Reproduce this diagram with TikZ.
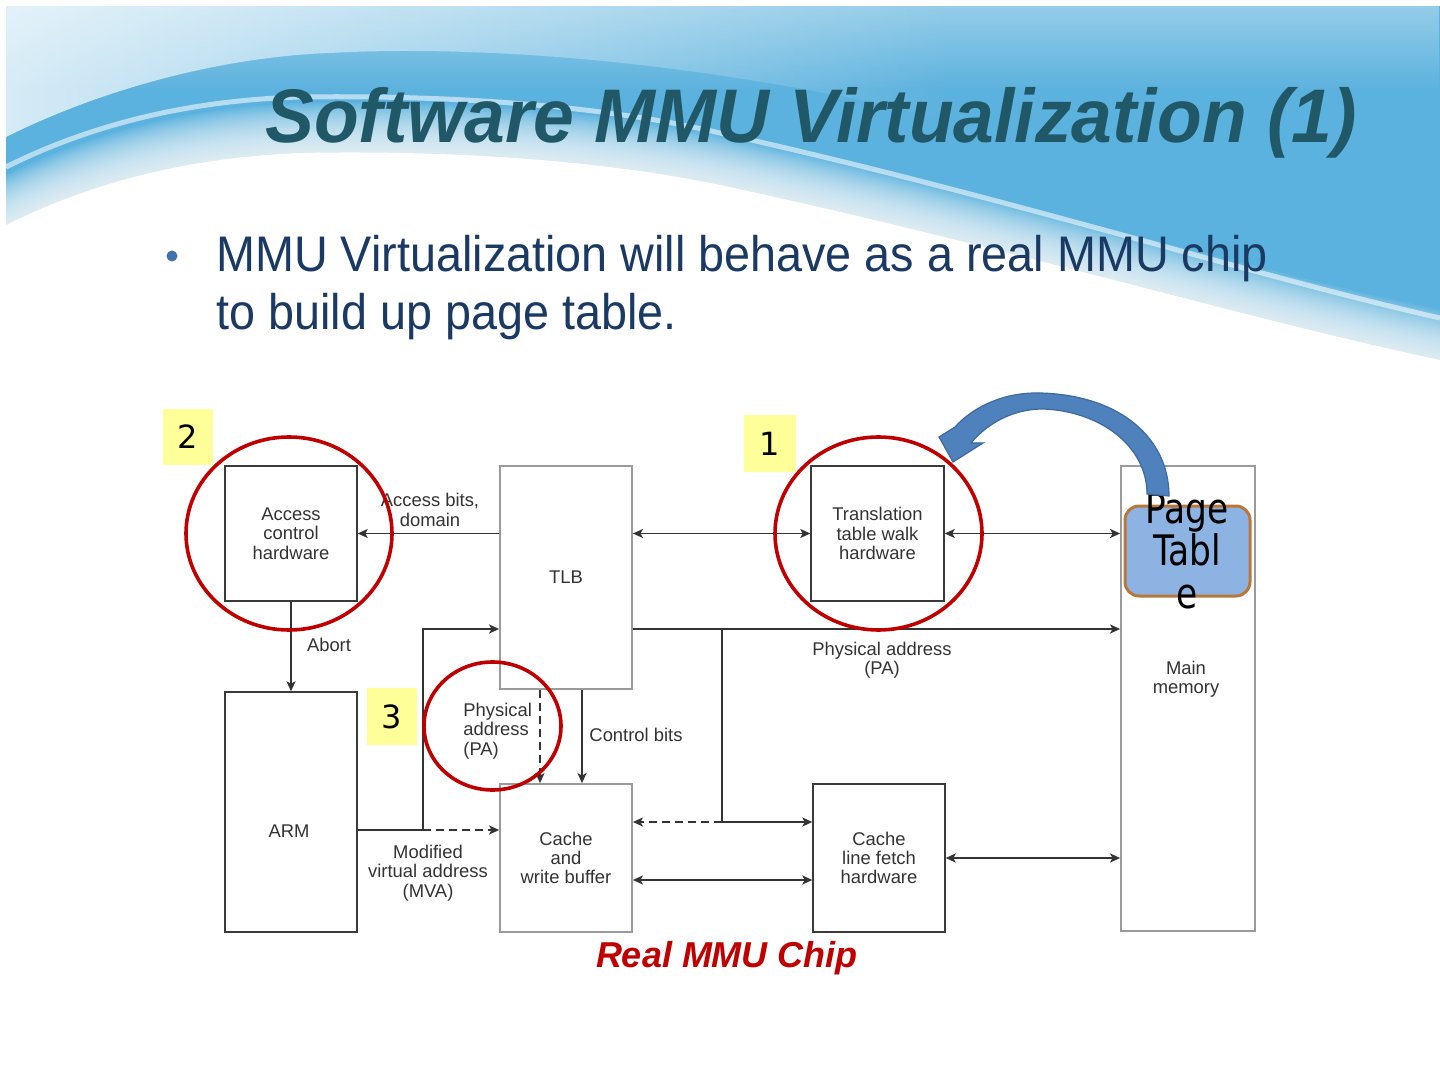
\documentclass[tikz,border=0pt]{standalone}
\usepackage{fontspec}
\setmainfont{Liberation Sans}
\newfontfamily\dejavu{DejaVu Sans}
\usetikzlibrary{arrows.meta,shapes.geometric,fadings}
\definecolor{bgblue}{HTML}{5CB2DE}
\definecolor{txt}{HTML}{333333}
\definecolor{boxdk}{HTML}{3A3A3A}
\definecolor{boxlt}{HTML}{9A9A9A}
\definecolor{linec}{HTML}{333333}
\definecolor{ringred}{HTML}{C00000}
\definecolor{ylw}{HTML}{FFFF99}
\definecolor{ptfill}{HTML}{8DB3E2}
\definecolor{ptbord}{HTML}{B9773C}
\definecolor{arrfill}{HTML}{4F81BD}
\definecolor{arrdark}{HTML}{3C6A9E}
\definecolor{titlec}{HTML}{215868}
\definecolor{bodyc}{HTML}{1B3A63}
\definecolor{bulc}{HTML}{4472AE}
\tikzfading[name=fadeR, left color=transparent!0, right color=transparent!100]
\tikzfading[name=fadeD, top color=transparent!0, bottom color=transparent!100]
\begin{document}
\begin{tikzpicture}[x=0.5pt,y=-0.5pt,
  dbox/.style={draw=boxdk, line width=0.7pt, inner sep=0pt, minimum width=66pt},
  gbox/.style={draw=boxlt, line width=0.9pt, inner sep=0pt, minimum width=66pt},
  lbl/.style={font=\fontsize{9.2}{9.7}\selectfont, text=txt, align=center, inner sep=0pt},
  arr/.style={draw=linec, line width=0.7pt, -{Stealth[length=5pt,width=4.5pt,inset=1.2pt]}},
  darr/.style={draw=linec, line width=0.7pt, {Stealth[length=5pt,width=4.5pt,inset=1.2pt]}-{Stealth[length=5pt,width=4.5pt,inset=1.2pt]}},
  plain/.style={draw=linec, line width=0.7pt},
  dsh/.style={dash pattern=on 4pt off 2.5pt},
  redring/.style={ellipse, draw=ringred, line width=1.8pt, inner sep=0pt},
  ybox/.style={fill=ylw, inner sep=0pt, font=\dejavu\fontsize{16}{16}\selectfont}
]
\useasboundingbox (0,0) rectangle (1440,1080);
% ---------- background ----------
\fill[white] (0,0) rectangle (1440,1080);
\fill[bgblue] (6,6) rectangle (1440,430);
\fill[white, path fading=fadeD, fill opacity=0.35] (6,6) rectangle (1440,90);
\fill[white, path fading=fadeR, fill opacity=0.75] (6,6) -- (950,6) -- (950,120) .. controls (700,60) and (480,45) .. (330,53) .. controls (220,57) and (100,90) .. (6,137) -- cycle;
\draw[white, line width=2.5pt, opacity=0.55] (6,167) .. controls (100,120) and (200,100) .. (300,97) .. controls (450,95) and (600,105) .. (720,133) .. controls (1000,195) and (1250,275) .. (1440,318);
\foreach \s in {2,4,...,50}{
  \fill[white, fill opacity=0.065, shift={(0,-\s)}] (6,225) .. controls (100,178) and (200,157) .. (300,153) .. controls (450,150) and (600,160) .. (720,185) .. controls (1000,245) and (1250,320) .. (1440,360) -- (1440,1100) -- (6,1100) -- cycle;
}
\fill[white] (6,225) .. controls (100,178) and (200,157) .. (300,153) .. controls (450,150) and (600,160) .. (720,185) .. controls (1000,245) and (1250,320) .. (1440,360) -- (1440,1100) -- (6,1100) -- cycle;
\fill[white] (0,0) rectangle (1440,6);
\fill[white] (0,0) rectangle (6,1080);
% ---------- title and bullet ----------
\node[anchor=base west, inner sep=0pt, font=\fontsize{38}{40}\selectfont\bfseries\itshape, text=titlec] (title) at (265,143) {\scalebox{0.963}[1]{Software MMU Virtualization (1)}};
\node[circle, fill=bulc, minimum size=5.5pt, inner sep=0pt] (bul) at (172,256) {};
\node[anchor=base west, inner sep=0pt, font=\fontsize{25}{27}\selectfont, text=bodyc] (l1) at (216,272) {\scalebox{0.935}[1]{MMU Virtualization will behave as a real MMU chip}};
\node[anchor=base west, inner sep=0pt, font=\fontsize{25}{27}\selectfont, text=bodyc] (l2) at (216,330) {\scalebox{0.935}[1]{to build up page table.}};
% ---------- boxes ----------
\node[dbox, lbl, minimum height=67.5pt] (acc) at (291,533.5) {Access\\control\\hardware};
\node[gbox, lbl, minimum height=111.5pt] (tlb) at (566,577.5) {TLB};
\node[dbox, lbl, minimum width=66.5pt, minimum height=67.5pt] (ttw) at (877.5,533.5) {Translation\\table walk\\hardware};
\node[gbox, minimum width=67pt, minimum height=232.5pt] (mem) at (1188,698.5) {};
\node[lbl] (memt) at (1186,679) {Main\\memory};
\node[dbox, minimum height=120pt] (arm) at (291,812) {};
\node[lbl] (armt) at (289,831) {ARM};
\node[gbox, lbl, minimum height=74pt] (cwb) at (566,858) {Cache\\and\\write buffer};
\node[dbox, lbl, minimum height=74pt] (clf) at (879,858) {Cache\\line fetch\\hardware};
% ---------- connector labels ----------
\node[lbl] (ab) at (430,510) {Access bits,\\domain};
\node[lbl] (abort) at (329,645) {Abort};
\node[lbl] (pa1) at (882,660) {Physical address\\(PA)};
\node[lbl] (cb) at (636,735) {Control bits};
\node[lbl, align=left, anchor=west] (pa2) at (463,731) {Physical\\address\\(PA)};
\node[lbl] (mva) at (428,873) {Modified\\virtual address\\(MVA)};
% ---------- connectors ----------
\coordinate (pa) at (722,629);
\coordinate (j1) at (423,830);
\coordinate (j2) at (722,822);
\coordinate (xd) at (540,700);
\coordinate (xc) at (582,700);
\coordinate (y880) at (700,880);
\draw[arr] (tlb.west |- acc.east) -- (acc.east);
\draw[darr] (tlb.east |- ttw.west) -- (ttw.west);
\draw[darr] (ttw.east) -- (mem.west |- ttw.east);
\draw[arr] (tlb.east |- pa) -- (mem.west |- pa);
\draw[arr] (acc.south) -- (arm.north);
\draw[plain] (arm.east |- j1) -- (j1);
\draw[arr, dsh] (j1) -- (cwb.west |- j1);
\draw[arr] (j1) |- (tlb.west |- pa);
\draw[arr, dsh] (tlb.south -| xd) -- (cwb.north -| xd);
\draw[arr] (tlb.south -| xc) -- (cwb.north -| xc);
\draw[plain] (pa) -- (j2);
\draw[arr] (j2) -- (clf.west |- j2);
\draw[arr, dsh] (j2) -- (cwb.east |- j2);
\draw[darr] (clf.east) -- (mem.west |- clf.east);
\draw[darr] (cwb.east |- y880) -- (clf.west |- y880);
% ---------- page table ----------
\node[draw=ptbord, line width=1.5pt, fill=ptfill, rounded corners=7pt, minimum width=62.5pt, minimum height=45pt, inner sep=0pt] (pt) at (1187.5,551) {};
\node[font=\dejavu\fontsize{21}{21.25}\selectfont, align=center, inner sep=0pt] (ptt) at (1187,550.5) {\scalebox{0.82}[1]{Page}\\\scalebox{0.82}[1]{Tabl}\\\scalebox{0.82}[1]{e}};
% ---------- curved blue arrow ----------
\fill[arrfill, draw=arrdark, line width=0.6pt] (1169,496) .. controls (1169,438) and (1120,395) .. (1040,393) .. controls (1000,392) and (970,410) .. (955,427) -- (939,437) -- (953,462) -- (983,443) -- (971,443) .. controls (985,426) and (1010,409) .. (1043,409) .. controls (1100,411) and (1147,446) .. (1147,494) -- cycle;
% ---------- red rings and number tags ----------
\node[redring, minimum width=103pt, minimum height=96.5pt] (r2) at (289,533.5) {};
\node[redring, minimum width=103.5pt, minimum height=96.5pt] (r1) at (878.5,533.5) {};
\node[redring, minimum width=68.5pt, minimum height=64pt] (r3) at (492.5,726) {};
\node[ybox, minimum width=25pt, minimum height=28pt] (n2) at (188,437) {2};
\node[ybox, minimum width=26pt, minimum height=28.5pt] (n1) at (770,443.5) {1};
\node[ybox, minimum width=25pt, minimum height=28.5pt] (n3) at (392,716.5) {3};
% ---------- caption ----------
\node[anchor=base, inner sep=0pt, font=\fontsize{18}{18}\selectfont\bfseries\itshape, text=ringred] (cap) at (727,967) {Real MMU Chip};
\end{tikzpicture}
\end{document}
